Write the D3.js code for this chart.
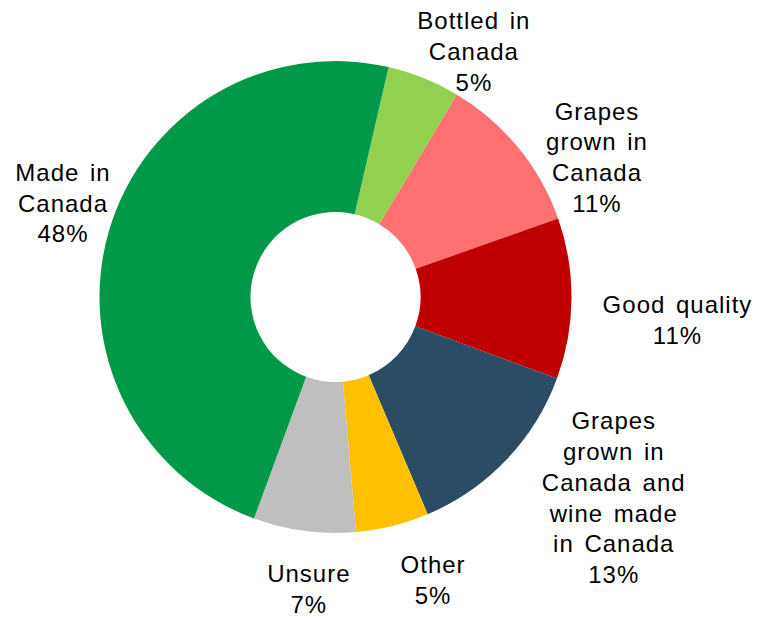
<!DOCTYPE html>
<html>
<head>
<meta charset="utf-8">
<script src="https://cdn.jsdelivr.net/npm/d3@7"></script>
<style>
  html, body { margin: 0; padding: 0; background: #ffffff; }
  svg { display: block; }
  .lbl { font-family: "Liberation Sans", Arial, sans-serif; font-size: 24px; letter-spacing: 1px; word-spacing: 3px; fill: #000; }
</style>
</head>
<body>
<svg id="chart" width="760" height="619"></svg>
<script>
// Reasons given, share of respondents (%)
const categories = [
  "Bottled in Canada",
  "Grapes grown in Canada",
  "Good quality",
  "Grapes grown in Canada and wine made in Canada",
  "Other",
  "Unsure",
  "Made in Canada"
];
const values = [5, 11, 11, 13, 5, 7, 48];
// Label text broken into lines (the percentage is appended from values)
const labelLines = [
  ["Bottled in", "Canada"],
  ["Grapes", "grown in", "Canada"],
  ["Good quality"],
  ["Grapes", "grown in", "Canada and", "wine made", "in Canada"],
  ["Other"],
  ["Unsure"],
  ["Made in", "Canada"]
];
const colors = ["#92D050", "#FF7171", "#C00000", "#2A4C64", "#FFC000", "#BFBFBF", "#00994A"];

// Layout
const cx = 335.5, cy = 297;
const outerR = 236, innerR = 85;
const labelR = 300;
const lineH = 30.8;
// Per-label shift away from the plain centroid so the blocks clear each other
const labelShift = [[26, 33], [29, 50], [42, 21], [61, -6], [25, -8], [13, -5], [15, -8]];

const data = categories.map((c, i) => ({ name: c, value: values[i], lines: labelLines[i], color: colors[i], shift: labelShift[i] }));

const pie = d3.pie()
  .sort(null)
  .value(d => d.value)
  .startAngle(13 * Math.PI / 180)
  .endAngle(13 * Math.PI / 180 + 2 * Math.PI);

const arcs = pie(data);

const arc = d3.arc().innerRadius(innerR).outerRadius(outerR);
const labelArc = d3.arc().innerRadius(labelR).outerRadius(labelR);

const svg = d3.select("#chart");
const g = svg.append("g").attr("transform", `translate(${cx},${cy})`);

g.selectAll("path.slice")
  .data(arcs)
  .join("path")
  .attr("class", "slice")
  .attr("d", arc)
  .attr("fill", d => d.data.color);

const fmt = d3.format(".0f");
const labels = g.selectAll("text.lbl")
  .data(arcs)
  .join("text")
  .attr("class", "lbl")
  .attr("text-anchor", "middle")
  .attr("transform", d => {
    const [x, y] = labelArc.centroid(d);
    return `translate(${x + d.data.shift[0]},${y + d.data.shift[1]})`;
  });

labels.each(function(d) {
  const lines = d.data.lines.concat([fmt(d.data.value) + "%"]);
  const n = lines.length;
  d3.select(this).selectAll("tspan")
    .data(lines)
    .join("tspan")
    .attr("x", 0)
    .attr("y", (t, i) => (i - (n - 1) / 2) * lineH)
    .attr("dy", "0.35em")
    .text(t => t);
});
</script>
</body>
</html>
